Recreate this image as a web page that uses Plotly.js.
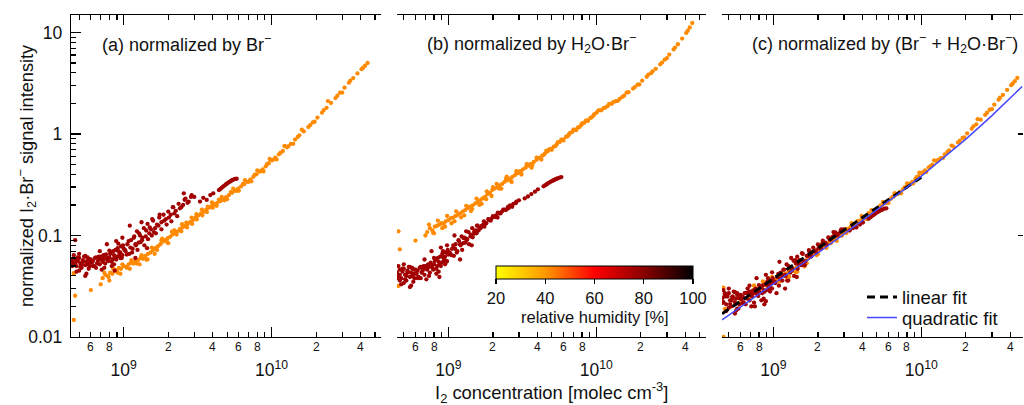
<!DOCTYPE html>
<html>
<head>
<meta charset="utf-8">
<script src="https://cdn.plot.ly/plotly-3.0.1.min.js"></script>
<style>html,body{margin:0;padding:0;background:#fff;}#chart{width:1024px;height:405px;}</style>
</head>
<body>
<div id="chart"></div>
<script>
// ---------- DATA (x in units of 1e9 molec cm^-3) ----------
const rh_orange = 42;   // relative humidity [%] of the low-RH series
const rh_red = 76;      // relative humidity [%] of the high-RH series

const x_orange = [0.46,0.47,0.46,0.60,0.70,
 0.72,0.75,0.78,0.81,0.84,0.87,0.90,0.93,0.96,1.00,
 1.04,1.08,1.12,1.16,1.20,1.25,1.30,1.35,1.40,1.46,
 1.52,1.58,1.64,1.70,1.77,1.84,1.91,1.98,2.06,2.14,
 2.22,2.31,2.40,2.50,2.60,2.71,2.82,2.94,3.06,3.19,
 3.33,3.47,3.62,3.78,3.95,4.12,4.30,4.50,4.70,4.92,
 5.15,5.40,5.66,5.93,6.22,6.52,6.84,7.17,7.52,7.89,
 8.28,8.69,9.12,9.57,10.05,10.6,11.2,11.9,12.7,13.5,
 14.4,15.4,16.5,17.7,19.0,20.4,21.9,23.5,25.2,27.0,
 29.0,31.1,33.3,35.6,38.0,40.5,42.8,44.5,
 0.80,0.95,1.10,1.28,1.45,1.62,1.80,2.00,2.20,2.45,
 2.65,2.90,3.10,3.40,3.70,4.00,4.40,4.80,5.30,5.80,
 6.40,7.00,7.70,8.50,9.30,10.3,11.5,13.0,15.0,18.2,
 22.5,27.8,34.0,41.5,
 0.74,0.79,0.85,0.91,0.98,1.05,1.13,1.22,1.32,1.42,
 1.55,1.68,1.82,1.96,2.12,2.28,2.48,2.68,2.88,3.12,
 3.38,3.65,3.95,4.25,4.6,5.0,5.5,6.0,6.6,7.3,
 8.0,8.8,9.7,10.8,12.2,14.0,16.0,19.5,24.0,30.0];
const y_orange_a = [0.0147,0.0255,0.0425,0.029,0.033,
 0.038,0.041,0.040,0.043,0.042,0.046,0.045,0.048,0.047,0.050,
 0.049,0.052,0.054,0.053,0.056,0.057,0.060,0.059,0.063,0.066,
 0.068,0.072,0.075,0.078,0.082,0.087,0.090,0.094,0.097,0.102,
 0.106,0.110,0.116,0.120,0.124,0.130,0.136,0.142,0.150,0.157,
 0.165,0.171,0.180,0.188,0.196,0.203,0.210,0.218,0.226,0.238,
 0.250,0.263,0.276,0.290,0.305,0.320,0.338,0.355,0.378,0.400,
 0.425,0.448,0.480,0.515,0.550,0.585,0.630,0.680,0.740,0.800,
 0.880,0.970,1.06,1.17,1.30,1.45,1.62,1.81,2.02,2.26,
 2.55,2.86,3.20,3.55,3.95,4.35,4.70,5.00,
 0.036,0.042,0.047,0.052,0.058,0.066,0.090,0.084,0.112,0.110,
 0.134,0.130,0.162,0.158,0.192,0.188,0.226,0.222,0.268,0.276,
 0.322,0.338,0.398,0.430,0.505,0.560,0.655,0.760,0.935,1.22,
 1.72,2.38,3.35,4.50,
 0.043,0.039,0.047,0.043,0.052,0.048,0.057,0.053,0.064,0.058,
 0.076,0.072,0.093,0.087,0.109,0.102,0.129,0.120,0.150,0.144,
 0.180,0.170,0.212,0.196,0.240,0.228,0.289,0.276,0.351,0.342,
 0.438,0.428,0.567,0.561,0.761,0.80,1.10,1.32,2.11,2.56];
const y_orange_b = [0.0318,0.073,0.11,0.089,0.10,
 0.108,0.118,0.112,0.122,0.125,0.128,0.132,0.130,0.138,0.142,
 0.148,0.150,0.156,0.160,0.165,0.172,0.178,0.186,0.192,0.198,
 0.207,0.214,0.222,0.232,0.240,0.255,0.262,0.280,0.290,0.300,
 0.312,0.322,0.338,0.350,0.362,0.378,0.394,0.410,0.430,0.448,
 0.466,0.487,0.508,0.530,0.556,0.580,0.610,0.645,0.676,0.712,
 0.750,0.790,0.835,0.880,0.935,0.985,1.04,1.10,1.16,1.22,
 1.29,1.36,1.44,1.52,1.62,1.72,1.80,1.88,1.98,2.10,
 2.22,2.38,2.58,2.80,3.06,3.35,3.66,3.98,4.38,4.85,
 5.40,6.05,6.80,7.65,8.70,9.90,11.2,12.4,
 0.105,0.122,0.138,0.158,0.182,0.200,0.228,0.300,0.290,0.360,
 0.345,0.425,0.410,0.505,0.495,0.580,0.620,0.705,0.760,0.880,
 0.950,1.10,1.17,1.35,1.46,1.70,1.82,2.06,2.32,2.90,
 3.85,5.05,7.10,10.4,
 0.128,0.106,0.140,0.118,0.156,0.132,0.173,0.151,0.196,0.174,
 0.231,0.205,0.272,0.245,0.323,0.289,0.379,0.336,0.430,0.398,
 0.501,0.466,0.584,0.559,0.686,0.699,0.829,0.863,1.02,1.09,
 1.27,1.35,1.57,1.71,1.98,2.12,2.55,3.08,4.14,5.59];
const y_orange_c = [0.0100,0.0189,0.0307,0.0219,0.0248,
 0.0281,0.0304,0.0295,0.0318,0.0314,0.0338,0.0336,0.0351,0.0351,0.0370,
 0.0368,0.0386,0.0401,0.0398,0.0418,0.0428,0.0449,0.0448,0.0474,0.0495,
 0.0512,0.0539,0.0561,0.0584,0.0611,0.0649,0.0670,0.0704,0.0727,0.0761,
 0.0791,0.0820,0.0864,0.0894,0.0924,0.0967,0.1011,0.1055,0.1112,0.1163,
 0.1219,0.1266,0.1329,0.1388,0.1449,0.1504,0.1562,0.1629,0.1694,0.1784,
 0.1875,0.1973,0.2074,0.2181,0.2300,0.2415,0.2551,0.2684,0.2851,0.3012,
 0.3197,0.3370,0.3600,0.3847,0.4106,0.4365,0.4667,0.4994,0.5387,0.5793,
 0.6302,0.6891,0.7513,0.8252,0.9124,1.0120,1.1229,1.2442,1.3824,1.5416,
 1.7321,1.9420,2.176,2.4248,2.7166,3.0221,3.3107,3.5632,
 0.0268,0.0312,0.0351,0.0391,0.0440,0.0496,0.0645,0.0656,0.0808,0.0843,
 0.0965,0.0995,0.1161,0.1203,0.1383,0.1420,0.1656,0.1688,0.1981,0.2101,
 0.2405,0.2586,0.2970,0.3261,0.3752,0.4212,0.4817,0.5552,0.6664,0.8587,
 1.1889,1.6176,2.2761,3.1409,
 0.0322,0.0285,0.0352,0.0315,0.0390,0.0352,0.0429,0.0392,0.0482,0.0435,
 0.0572,0.0533,0.0693,0.0642,0.0815,0.0754,0.0962,0.0884,0.1112,0.1057,
 0.1324,0.1246,0.1555,0.1451,0.1778,0.1719,0.2143,0.2091,0.2611,0.2603,
 0.3257,0.3250,0.4166,0.4224,0.5497,0.5808,0.7685,0.9240,1.3977,1.7558];

const x_red = [0.45,0.46,0.47,0.48,0.49,0.50,0.51,0.52,0.53,0.54,0.55,0.56,0.57,0.58,0.59,0.60,0.46,0.48,0.50,0.52,0.55,0.57,0.59,0.47,0.53,
 0.62,0.64,0.66,0.68,0.70,0.72,0.74,0.76,0.78,0.80,0.82,0.84,0.86,0.88,0.90,0.92,0.94,0.96,0.98,1.00,0.65,0.71,0.77,0.83,0.89,0.95,0.69,0.87,
 1.03,1.06,1.09,1.12,1.15,1.18,1.21,1.24,1.27,1.30,1.34,1.38,1.42,1.46,1.50,1.55,1.60,1.10,1.20,1.32,1.44,1.56,
 1.65,1.72,1.80,1.88,1.95,2.02,2.10,2.20,2.30,2.40,2.52,2.62,2.75,2.88,3.00,1.75,2.15,2.55,
 3.28,3.45,3.64,3.85,4.03,4.40,4.50,4.60,4.70,4.80,4.90,5.00,5.10,5.20,5.30,5.40,5.50,5.65,5.80,
 0.44,0.45,0.47,0.49,0.51,0.53,0.55,0.57,0.59,0.61,0.63,0.65,0.67,0.69,0.71,0.73,0.75,0.77,0.79,0.81,
 0.83,0.85,0.87,0.89,0.91,0.93,0.95,0.97,0.99,1.02,1.05,1.08,1.11,1.14,1.17,1.20,1.23,1.26,1.29,1.33,
 1.37,1.41,1.45,1.49,1.53,1.58,1.63,1.68,1.74,1.80,1.86,1.93,2.00,2.08,2.16,2.25,2.35,2.45,2.58,2.70,
 2.85,0.50,0.56,0.62,0.68,0.74,0.80,0.86,0.92,0.98];
const y_red_a = [0.055,0.052,0.058,0.050,0.056,0.060,0.053,0.048,0.057,0.062,0.051,0.055,0.059,0.047,0.054,0.058,0.064,0.044,0.066,0.052,0.040,0.061,0.050,0.090,0.056,
 0.056,0.060,0.053,0.058,0.062,0.055,0.059,0.065,0.057,0.061,0.068,0.058,0.064,0.072,0.062,0.070,0.066,0.078,0.064,0.074,0.048,0.046,0.082,0.050,0.088,0.060,0.070,0.045,
 0.070,0.082,0.066,0.090,0.074,0.098,0.080,0.072,0.105,0.086,0.095,0.080,0.112,0.092,0.120,0.100,0.108,0.125,0.060,0.135,0.075,0.145,
 0.105,0.125,0.115,0.140,0.128,0.150,0.138,0.165,0.155,0.185,0.200,0.230,0.215,0.250,0.240,0.160,0.190,0.260,
 0.216,0.235,0.224,0.250,0.260,0.280,0.287,0.295,0.303,0.310,0.318,0.325,0.332,0.338,0.344,0.350,0.355,0.360,0.362,
 0.057,0.050,0.053,0.061,0.049,0.055,0.063,0.052,0.058,0.054,0.050,0.061,0.056,0.052,0.058,0.064,0.053,0.060,0.056,0.066,
 0.055,0.070,0.060,0.058,0.075,0.063,0.068,0.060,0.080,0.072,0.065,0.088,0.076,0.068,0.095,0.082,0.110,0.085,0.100,0.090,
 0.118,0.098,0.130,0.105,0.115,0.140,0.118,0.128,0.150,0.135,0.160,0.145,0.172,0.160,0.190,0.175,0.205,0.190,0.225,0.210,
 0.240,0.045,0.042,0.050,0.062,0.048,0.071,0.052,0.083,0.095];
const y_red_b = [0.043,0.040,0.046,0.038,0.044,0.047,0.041,0.036,0.045,0.049,0.039,0.043,0.047,0.035,0.042,0.046,0.050,0.033,0.052,0.040,0.031,0.048,0.038,0.036,0.044,
 0.045,0.048,0.043,0.047,0.050,0.046,0.049,0.054,0.048,0.052,0.058,0.050,0.055,0.062,0.054,0.061,0.058,0.068,0.056,0.065,0.038,0.037,0.070,0.042,0.076,0.052,0.058,0.039,
 0.066,0.074,0.063,0.082,0.070,0.088,0.080,0.072,0.094,0.085,0.092,0.082,0.102,0.096,0.110,0.105,0.112,0.100,0.058,0.110,0.080,0.125,
 0.118,0.128,0.132,0.142,0.146,0.152,0.158,0.165,0.172,0.180,0.190,0.198,0.205,0.215,0.222,0.122,0.150,0.185,
 0.232,0.242,0.256,0.270,0.285,0.305,0.312,0.318,0.325,0.332,0.338,0.343,0.348,0.353,0.358,0.362,0.366,0.372,0.376,
 0.044,0.038,0.041,0.047,0.037,0.043,0.049,0.040,0.046,0.042,0.039,0.049,0.045,0.041,0.047,0.052,0.043,0.050,0.046,0.056,
 0.047,0.060,0.052,0.050,0.066,0.056,0.062,0.055,0.072,0.068,0.064,0.080,0.074,0.068,0.090,0.082,0.098,0.084,0.095,0.090,
 0.108,0.098,0.118,0.104,0.112,0.125,0.118,0.124,0.138,0.132,0.145,0.140,0.155,0.152,0.168,0.165,0.180,0.178,0.195,0.192,
 0.208,0.034,0.032,0.038,0.050,0.040,0.060,0.044,0.070,0.080];
const y_red_c = [0.024,0.022,0.026,0.021,0.025,0.027,0.023,0.020,0.025,0.028,0.022,0.024,0.026,0.019,0.024,0.026,0.029,0.018,0.030,0.023,0.017,0.027,0.021,0.025,0.025,
 0.025,0.027,0.024,0.026,0.028,0.025,0.027,0.030,0.026,0.028,0.031,0.027,0.029,0.033,0.029,0.032,0.031,0.036,0.030,0.035,0.021,0.020,0.038,0.023,0.041,0.028,0.032,0.021,
 0.034,0.039,0.032,0.043,0.036,0.046,0.040,0.036,0.050,0.043,0.047,0.040,0.053,0.047,0.057,0.051,0.055,0.055,0.030,0.060,0.039,0.067,
 0.056,0.063,0.062,0.070,0.068,0.075,0.074,0.082,0.081,0.091,0.097,0.107,0.104,0.115,0.115,0.069,0.084,0.108,
 0.112,0.118,0.120,0.128,0.134,0.146,0.150,0.154,0.158,0.161,0.165,0.168,0.171,0.174,0.177,0.179,0.181,0.184,0.185,
 0.0248,0.0216,0.0270,0.0265,0.0211,0.0241,0.0276,0.0190,0.0257,0.0236,0.0219,0.0272,0.0300,0.0229,0.0260,0.0287,0.0200,0.0273,0.0253,0.0303,
 0.0310,0.0323,0.0279,0.0225,0.0351,0.0296,0.0324,0.0345,0.0379,0.0350,0.0270,0.0419,0.0375,0.0400,0.0462,0.0410,0.0518,0.0360,0.0487,0.0450,
 0.0564,0.0570,0.0619,0.0522,0.0567,0.0660,0.0510,0.0630,0.0719,0.0667,0.0761,0.0712,0.0815,0.0779,0.0892,0.0849,0.0958,0.0919,0.1045,0.1003,
 0.1114,0.0194,0.0182,0.0216,0.0277,0.0218,0.0325,0.0238,0.0380,0.0434];

const x_linear_fit = [0.45, 10.0];
const y_linear_fit = [0.0169, 0.375];
const x_quad_fit = [0.45,0.7,1,1.5,2,3,5,7,10,15,20,30,40,48];
const y_quad_fit = [0.01475,0.02304,0.0331,0.0501,0.0674,0.1029,0.1775,0.2569,0.385,0.6225,0.89,1.515,2.26,2.94];

const x_major_ticks = [1e9, 1e10];
const x_major_text = ['10<sup>9</sup>', '10<sup>10</sup>'];
const x_minor_ticks = [5e8,6e8,7e8,8e8,9e8,2e9,3e9,4e9,5e9,6e9,7e9,8e9,9e9,2e10,3e10,4e10,5e10];
const x_minor_label_vals = [6e8,8e8,2e9,4e9,6e9,8e9,2e10,4e10];
const x_minor_label_text = ['6','8','2','4','6','8','2','4'];
const y_major_ticks = [0.01,0.1,1,10];
const y_major_text = ['0.01','0.1','1','10'];
const y_minor_ticks = [0.02,0.03,0.04,0.05,0.06,0.07,0.08,0.09,0.2,0.3,0.4,0.5,0.6,0.7,0.8,0.9,2,3,4,5,6,7,8,9];
const rh_ticks = [20,40,60,80,100];
const panel_titles = ['(a) normalized by Br<sup>−</sup>',
 '(b) normalized by H<sub>2</sub>O·Br<sup>−</sup>',
 '(c) normalized by (Br<sup>−</sup> + H<sub>2</sub>O·Br<sup>−</sup>)'];

// ---------- STYLE ----------
const FONT = 'Liberation Sans, Arial, sans-serif';
const TXT = '#111';
const RH_SCALE = [[0,'#ffff00'],[0.25,'#ff9900'],[0.5,'#ff0000'],[0.75,'#8b0000'],[1,'#000000']];
const W = 1024, H = 405;
const px = v => v / W, py = v => 1 - v / H;
const MSIZE = 4.3;

const panels = [
  {xa:'x',  ya:'y',  dom:[71,381],  range:[8.644,10.739], ya_o:y_orange_a, ya_r:y_red_a, title_x:100},
  {xa:'x2', ya:'y2', dom:[397,706], range:[8.653,10.741], ya_o:y_orange_b, ya_r:y_red_b, title_x:425},
  {xa:'x3', ya:'y3', dom:[722,1023],range:[8.653,10.687], ya_o:y_orange_c, ya_r:y_red_c, title_x:750}
];
const yDom = [py(337), py(15)];
const yRange = [-2, 1.172];

const traces = [];
panels.forEach((p, i) => {
  traces.push({type:'scatter', mode:'markers', x:x_orange.map(v=>v*1e9), y:p.ya_o,
    xaxis:p.xa, yaxis:p.ya, showlegend:false, hoverinfo:'skip',
    marker:{size:MSIZE, color:x_orange.map(()=>rh_orange), colorscale:RH_SCALE, cmin:20, cmax:100, showscale:false}});
  const red = {type:'scatter', mode:'markers', x:x_red.map(v=>v*1e9), y:p.ya_r,
    xaxis:p.xa, yaxis:p.ya, showlegend:false, hoverinfo:'skip',
    marker:{size:MSIZE, color:x_red.map(()=>rh_red), colorscale:RH_SCALE, cmin:20, cmax:100, showscale:false}};
  if (i === 1) {
    red.marker.showscale = true;
    red.marker.colorbar = {orientation:'h', x:px(594.5), xanchor:'center', y:py(266), yanchor:'top',
      len:197/W, lenmode:'fraction', thickness:13, thicknessmode:'pixels', xpad:0, ypad:0,
      outlinewidth:1, outlinecolor:'#000', ticks:'outside', ticklen:5, tickwidth:1.2, tickcolor:'#000',
      tickmode:'array', tickvals:rh_ticks, ticktext:rh_ticks.map(String),
      tickfont:{family:FONT, size:16.5, color:TXT},
      title:{text:''}};
  }
  traces.push(red);
});
traces.push({type:'scatter', mode:'lines', x:x_linear_fit.map(v=>v*1e9), y:y_linear_fit, xaxis:'x3', yaxis:'y3',
  name:'linear fit', legend:'legend', line:{color:'#000', width:3, dash:'8px,5px'}, hoverinfo:'skip'});
traces.push({type:'scatter', mode:'lines', x:x_quad_fit.map(v=>v*1e9), y:y_quad_fit, xaxis:'x3', yaxis:'y3',
  name:'quadratic fit', legend:'legend2', line:{color:'#4848ff', width:1.5}, hoverinfo:'skip'});

const LEG_FONT = {family:FONT, size:18.5, color:TXT};
const layout = {
  width:W, height:H, margin:{l:0,r:0,t:0,b:0}, paper_bgcolor:'#fff', plot_bgcolor:'rgba(0,0,0,0)',
  font:{family:FONT, color:TXT, size:17},
  showlegend:true,
  legend:{x:px(862), y:py(297.5), xanchor:'left', yanchor:'middle', bgcolor:'rgba(0,0,0,0)', font:LEG_FONT},
  legend2:{x:px(862), y:py(318), xanchor:'left', yanchor:'middle', bgcolor:'rgba(0,0,0,0)', font:LEG_FONT},
  annotations:[]
};

panels.forEach((p, i) => {
  const sfx = i === 0 ? '' : String(i + 1);
  layout['xaxis' + sfx] = {
    type:'log', domain:[px(p.dom[0]), px(p.dom[1])], range:p.range, anchor:p.ya,
    showline:true, linecolor:'#000', linewidth:1.2, mirror:'ticks', showgrid:false, zeroline:false,
    ticks:'inside', ticklen:10, tickwidth:1.2, tickcolor:'#000',
    tickmode:'array', tickvals:x_major_ticks, ticktext:x_major_text,
    tickfont:{family:FONT, size:17.5, color:TXT}, ticklabelstandoff:17,
    minor:{tickmode:'array', tickvals:x_minor_ticks, ticks:'inside', ticklen:5, tickwidth:1.2, tickcolor:'#000', showgrid:false}
  };
  let yax = {type:'log', domain:yDom, range:yRange, anchor:p.xa, showgrid:false, zeroline:false};
  if (i === 0) {
    Object.assign(yax, {showline:true, linecolor:'#000', linewidth:1.2, ticks:'inside', ticklen:10, tickwidth:1.2,
      tickcolor:'#000', tickmode:'array', tickvals:y_major_ticks, ticktext:y_major_text,
      tickfont:{family:FONT, size:17.5, color:TXT}, ticklabelstandoff:4,
      minor:{tickmode:'array', tickvals:y_minor_ticks, ticks:'inside', ticklen:5, tickwidth:1.2, tickcolor:'#000', showgrid:false}});
  } else if (i === 1) {
    Object.assign(yax, {showline:false, ticks:'', showticklabels:false});
  } else {
    Object.assign(yax, {side:'right', showline:false, ticks:'inside', ticklen:5, tickwidth:1.2, tickcolor:'#000',
      tickmode:'array', tickvals:[0.1, 1], showticklabels:false});
  }
  layout['yaxis' + sfx] = yax;

  x_minor_label_vals.forEach((v, k) => {
    layout.annotations.push({xref:p.xa, yref:'paper', x:Math.log10(v), y:py(347), text:x_minor_label_text[k],
      showarrow:false, xanchor:'center', yanchor:'middle', font:{family:FONT, size:12, color:TXT}});
  });
  layout.annotations.push({xref:'paper', yref:'paper', x:px(p.title_x), y:py(44), text:panel_titles[i],
    showarrow:false, xanchor:'left', yanchor:'middle', font:{family:FONT, size:18, color:TXT}});
});

layout.annotations.push({xref:'paper', yref:'paper', x:px(594.5), y:py(317), text:'relative humidity [%]',
  showarrow:false, xanchor:'center', yanchor:'middle', font:{family:FONT, size:16.5, color:TXT}});
layout.annotations.push({xref:'paper', yref:'paper', x:px(551), y:py(392), text:'I<sub>2</sub> concentration [molec cm<sup>-3</sup>]',
  showarrow:false, xanchor:'center', yanchor:'middle', font:{family:FONT, size:18.4, color:TXT}});
layout.annotations.push({xref:'paper', yref:'paper', x:px(26), y:py(176), text:'normalized I<sub>2</sub>·Br<sup>−</sup> signal intensity',
  showarrow:false, textangle:-90, xanchor:'center', yanchor:'middle', font:{family:FONT, size:18.2, color:TXT}});

Plotly.newPlot('chart', traces, layout, {displayModeBar:false, staticPlot:true});
</script>
</body>
</html>
